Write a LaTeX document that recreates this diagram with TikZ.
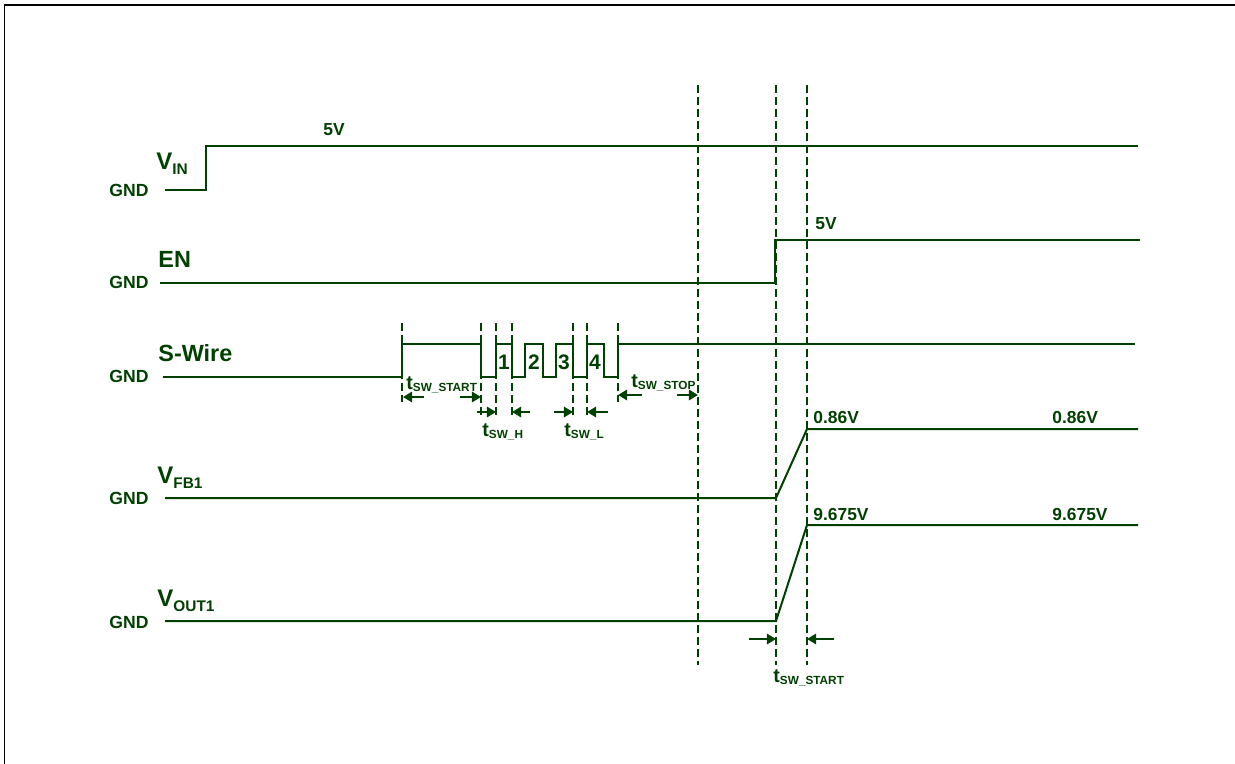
\documentclass[tikz,border=0pt]{standalone}
\usepackage{fontspec}
\setmainfont{Liberation Sans}
\usetikzlibrary{arrows.meta}
\definecolor{sig}{RGB}{0,64,0}
\newcommand{\signame}[2]{{\fontsize{12}{12}\selectfont #1}\raisebox{-2.5pt}{\fontsize{7.7}{7.7}\selectfont #2}}
\newcommand{\tlabel}[1]{{\fontsize{9.8}{9.8}\selectfont t}\raisebox{-1pt}{\fontsize{5.9}{5.9}\selectfont #1}}

\begin{document}
\begin{tikzpicture}[
			x=0.5pt, y=-0.5pt,
			wave/.style={
				draw=sig,
				line width=1pt
			},
			marker/.style={
				draw=sig,
				line width=1pt,
				dash pattern=on 4pt off 2pt
			},
			arrow/.style={
				draw=sig,
				line width=1.4pt,
				-{Triangle[length=4.6pt,width=5.2pt]}
			},
			gnd/.style={
				text=sig,
				inner sep=0pt,
				anchor=east,
				font=\bfseries\fontsize{8.8}{8.8}\selectfont
			},
			sigtext/.style={
				text=sig,
				inner sep=0pt,
				font=\bfseries
			},
			level/.style={
				text=sig,
				inner sep=0pt,
				anchor=west,
				font=\bfseries\fontsize{8.7}{8.7}\selectfont
			},
			bit/.style={
				text=sig,
				inner sep=0pt,
				font=\bfseries\fontsize{10.5}{10.5}\selectfont
			}
			]
			\useasboundingbox (0,0) rectangle (1235,764);
			
			% Frame
			\draw[black, line width=1.3pt] (4,5) -- (1235,5);
			\draw[black, line width=0.5pt] (4,5) -- (4,764);
			
			% Labels
			\node[gnd] (gndin) at (149,190) {GND};
			\node[gnd] (gnden) at (149,282) {GND};
			\node[gnd] (gndsw) at (149,376) {GND};
			\node[gnd] (gndfb) at (149,498) {GND};
			\node[gnd] (gndout) at (149,622) {GND};
			\node[sigtext, anchor=base west] (vin) at (156,170) {\signame{V}{IN}};
			\node[sigtext, anchor=west, font=\bfseries\fontsize{11.7}{11.7}\selectfont] (en) at (158,259) {EN};
			\node[sigtext, anchor=west, font=\bfseries\fontsize{11.7}{11.7}\selectfont] (swire) at (158,353) {S-Wire};
			\node[sigtext, anchor=base west] (vfb) at (157,483) {\signame{V}{FB1}};
			\node[sigtext, anchor=base west] (vout) at (157,606) {\signame{V}{OUT1}};
			\node[level] (vin5) at (323,130) {5V};
			\node[level] (en5) at (815,224) {5V};
			\node[level] (fbA) at (813,418) {0.86V};
			\node[level] (fbB) at (1052,418) {0.86V};
			\node[level] (outA) at (813,515) {9.675V};
			\node[level] (outB) at (1052,515) {9.675V};
			\foreach \n/\x in {1/504,2/534,3/564,4/595}
				\node[bit] (bit\n) at (\x,362) {\n};
			
			% Waveforms
			\draw[wave] (165,190) -- (206,190) -- (206,146) -- (1138,146);
			\draw[wave] (160,283) -- (775,283) -- (775,240) -- (1140,240);
			\draw[wave] (163,377) -- (402,377) -- (402,344) -- (481,344) -- (481,377)
				-- (496,377) -- (496,344) -- (512,344) -- (512,377) -- (525,377)
				-- (525,344) -- (543,344) -- (543,377) -- (556,377) -- (556,344)
				-- (573,344) -- (573,377) -- (587,377) -- (587,344) -- (604,344)
				-- (604,377) -- (618,377) -- (618,344) -- (1135,344);
			\draw[wave] (165,498) -- (776,498) -- (807,429) -- (1138,429);
			\draw[wave] (165,621) -- (776,621) -- (807,525) -- (1138,525);
			
			% Markers
			\foreach \x/\yb in {402/402,481/416,496/416,512/416,573/416,587/416,618/402}
				\draw[marker] (\x,323) -- (\x,\yb);
			\foreach \x in {698,776,807}
				\draw[marker] (\x,85) -- (\x,665);
			
			% Timing arrows
			\draw[arrow] (424,397) -- (403,397);
			\draw[arrow] (460,397) -- (481,397);
			\draw[arrow] (477,412) -- (496,412);
			\draw[arrow] (530,412) -- (512,412);
			\draw[arrow] (554,412) -- (573,412);
			\draw[arrow] (608,412) -- (587,412);
			\draw[arrow] (642,395) -- (618,395);
			\draw[arrow] (677,395) -- (698,395);
			\draw[arrow] (749,639) -- (776,639);
			\draw[arrow] (834,639) -- (807,639);
			\node[sigtext, anchor=base west] (tstart) at (406,389) {\tlabel{SW\_START}};
			\node[sigtext, anchor=base west] (thigh) at (482,436) {\tlabel{SW\_H}};
			\node[sigtext, anchor=base west] (tlow) at (564,436) {\tlabel{SW\_L}};
			\node[sigtext, anchor=base west] (tstop) at (631,387) {\tlabel{SW\_STOP}};
			\node[sigtext, anchor=base west] (tramp) at (773,682) {\tlabel{SW\_START}};
			
		\end{tikzpicture}
\end{document}
